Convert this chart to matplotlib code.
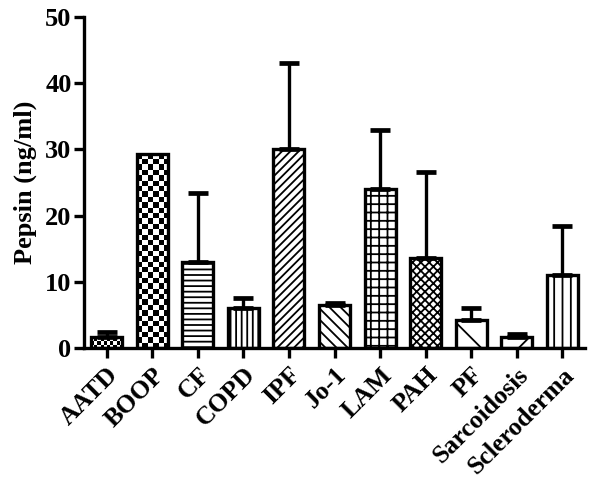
import numpy as np
import matplotlib
matplotlib.use("Agg")
import matplotlib.pyplot as plt

# data
groups = ["AATD", "BOOP", "CF", "COPD", "IPF", "Jo-1", "LAM", "PAH", "PF",
          "Sarcoidosis", "Scleroderma"]
means = [1.7, 29.3, 13.0, 6.0, 30.1, 6.5, 24.0, 13.6, 4.2, 1.7, 11.0]
sem = [0.7, 0.0, 10.4, 1.6, 13.0, 0.3, 9.0, 13.0, 1.9, 0.4, 7.4]
hatches = [None, None, "---", "|||", "////", "\\\\\\", "++", "xxxx", "\\", "/", "||"]
checker = [0.07, 0.12, 0, 0, 0, 0, 0, 0, 0, 0, 0]  # checker cell width (x units), 0 = none

plt.rcParams["font.family"] = ["Liberation Serif", "DejaVu Serif"]
plt.rcParams["font.weight"] = "bold"
plt.rcParams["hatch.linewidth"] = 1.3
plt.rcParams["hatch.color"] = "black"

fig = plt.figure(figsize=(6, 4.88), dpi=100)
ax = fig.add_axes([0.14, 0.287, 0.835, 0.678])

x = np.arange(len(groups))
w = 0.68
lw = 2.4

bars = ax.bar(x, means, width=w, color="white", edgecolor="black",
              linewidth=0, zorder=2)
for b, h in zip(bars, hatches):
    if h:
        b.set_hatch(h)

# checkerboard fills
for i, b in enumerate(bars):
    cw = checker[i]
    if not cw:
        continue
    ch = cw * 6.8
    nx = int(np.ceil(w / cw))
    ny = int(np.ceil(means[i] / ch))
    grid = (np.add.outer(np.arange(ny), np.arange(nx)) % 2).astype(float)
    im = ax.imshow(grid, cmap="binary", interpolation="nearest", aspect="auto",
                   origin="lower", vmin=0, vmax=1,
                   extent=(x[i] - w / 2, x[i] - w / 2 + nx * cw, 0, ny * ch),
                   zorder=2.5)
    im.set_clip_path(b)

ax.bar(x, means, width=w, fill=False, edgecolor="black", linewidth=lw, zorder=3)

sem = np.array(sem)
m = np.array(means)
keep = sem > 0
ax.errorbar(x[keep], m[keep], yerr=[np.zeros(keep.sum()), sem[keep]], fmt="none",
            ecolor="black", elinewidth=lw, capsize=7, capthick=3.4, zorder=4)

ax.set_xlim(-0.5, len(groups) - 0.5)
ax.set_ylim(0, 50)
ax.set_yticks([0, 10, 20, 30, 40, 50])
ax.set_xticks(x)
ax.set_xticklabels(groups, rotation=45, ha="right", rotation_mode="anchor",
                   fontsize=18.5, fontweight="bold")
ax.tick_params(axis="y", labelsize=19, width=lw, length=7, direction="out", pad=2)
ax.tick_params(axis="x", width=lw, length=7, direction="out", pad=4)
ax.set_ylabel("Pepsin (ng/ml)", fontsize=19, fontweight="bold", labelpad=6)

for s in ["top", "right"]:
    ax.spines[s].set_visible(False)
for s in ["left", "bottom"]:
    ax.spines[s].set_linewidth(lw)

fig.savefig("out.png", dpi=100)
